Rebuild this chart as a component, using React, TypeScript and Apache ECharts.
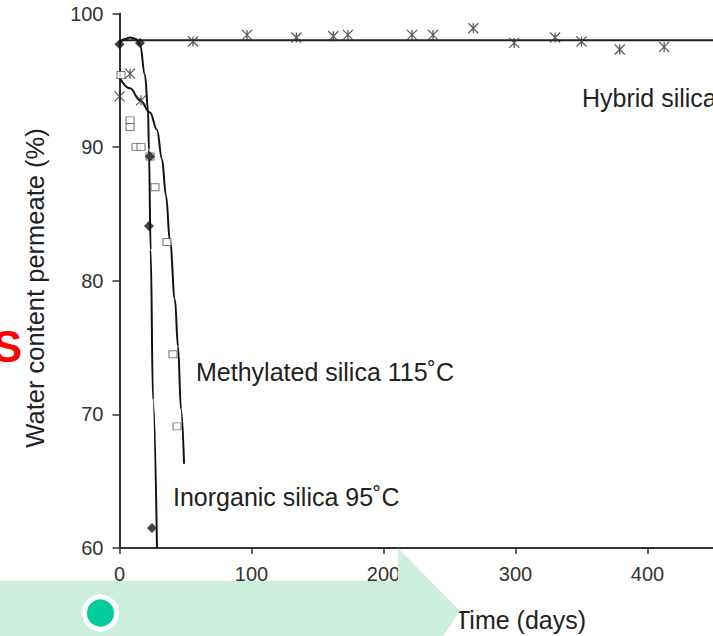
import React, { useEffect, useRef } from "react";
import * as echarts from "echarts";

// Tick values
const xTicks = [0, 100, 200, 300, 400, 500];
const yTicks = [60, 70, 80, 90, 100];

// Hybrid silica: measured points and fitted level
const hybridDays = [0, 8, 16.3, 55.7, 96.6, 134, 162, 173, 221.6, 237.5, 268, 299, 330, 350, 379, 412.6];
const hybridWater = [93.8, 95.5, 93.5, 97.9, 98.4, 98.2, 98.3, 98.4, 98.4, 98.4, 98.9, 97.8, 98.2, 97.9, 97.3, 97.5];
const hybridFitDays = [0, 500];
const hybridFitWater = [98.0, 98.0];

// Inorganic silica 95°C
const inorgDays = [0, 15.5, 23.1, 22.3, 24.6];
const inorgWater = [97.7, 97.8, 89.3, 84.1, 61.5];
const inorgFitDays = [0, 4.2, 8, 12.5, 15.5, 19.3, 21.6, 22.3, 23.6, 25.4, 28.4];
const inorgFitWater = [97.8, 98.1, 98.2, 98.1, 97.7, 95.4, 92.8, 89.8, 82.3, 71.1, 60.0];

// Methylated silica 115°C
const methDays = [1.1, 8, 8, 12.5, 16.3, 23.1, 26.9, 36.0, 40.5, 43.6];
const methWater = [95.4, 92.0, 91.5, 90.0, 90.0, 89.3, 87.0, 82.9, 74.5, 69.1];
const methFitDays = [0, 8, 15.5, 23.1, 28.4, 32.2, 35.2, 38.3, 42, 44.3, 46.6, 48.9];
const methFitWater = [95.2, 94.4, 93.5, 92.6, 91.3, 89.1, 86.4, 82.9, 78.6, 75.1, 70.4, 66.3];

const zip = (a: number[], b: number[]) => a.map((v, i) => [v, b[i]]);

const FONT = "'Liberation Sans', Arial, sans-serif";

export default function App() {
  const ref = useRef<HTMLDivElement>(null);
  useEffect(() => {
    if (!ref.current) return;
    const chart = echarts.init(ref.current, null, { renderer: "svg" });
    const asterisk = "path://M0,0L10,10M10,0L0,10M5,0L5,10";
    chart.setOption({
      animation: false,
      backgroundColor: "#ffffff",
      grid: { left: 119.5, top: 13.5, width: 660, height: 534.5, containLabel: false },
      xAxis: {
        type: "value",
        min: xTicks[0],
        max: xTicks[xTicks.length - 1],
        interval: 100,
        axisLine: { show: true, lineStyle: { color: "#333", width: 2 } },
        axisTick: { show: true, inside: false, length: 6, lineStyle: { color: "#333", width: 1.5 } },
        splitLine: { show: false },
        axisLabel: { color: "#333", fontSize: 20, fontFamily: FONT, margin: 16 },
      },
      yAxis: {
        type: "value",
        min: yTicks[0],
        max: yTicks[yTicks.length - 1],
        interval: 10,
        axisLine: { show: true, lineStyle: { color: "#333", width: 2 } },
        axisTick: { show: true, inside: false, length: 7, lineStyle: { color: "#333", width: 1.5 } },
        splitLine: { show: false },
        axisLabel: { color: "#333", fontSize: 20, fontFamily: FONT, margin: 16 },
      },
      series: [
        {
          type: "line",
          data: zip(hybridFitDays, hybridFitWater),
          showSymbol: false,
          lineStyle: { color: "#222", width: 2 },
          z: 2,
        },
        {
          type: "scatter",
          data: zip(hybridDays, hybridWater),
          symbol: asterisk,
          symbolSize: 10,
          itemStyle: { color: "transparent", borderColor: "#333", borderWidth: 1.3 },
          z: 3,
        },
        {
          type: "line",
          data: zip(inorgFitDays, inorgFitWater),
          smooth: 0.4,
          smoothMonotone: "x",
          showSymbol: false,
          lineStyle: { color: "#111", width: 2 },
          z: 2,
        },
        {
          type: "scatter",
          data: zip(inorgDays, inorgWater),
          symbol: "diamond",
          symbolSize: 10,
          itemStyle: { color: "#111" },
          z: 4,
        },
        {
          type: "line",
          data: zip(methFitDays, methFitWater),
          smooth: 0.4,
          smoothMonotone: "x",
          showSymbol: false,
          lineStyle: { color: "#111", width: 2 },
          z: 2,
        },
        {
          type: "scatter",
          data: zip(methDays, methWater),
          symbol: "rect",
          symbolSize: [8, 7],
          itemStyle: { color: "#fff", borderColor: "#555", borderWidth: 1 },
          z: 3,
        },
      ],
      graphic: [
        {
          type: "text",
          x: 582,
          y: 98,
          style: { text: "Hybrid silica", fontSize: 25, fontFamily: FONT, fill: "#222", verticalAlign: "middle", align: "left" },
        },
        {
          type: "text",
          x: 196,
          y: 372,
          style: { text: "Methylated silica 115˚C", fontSize: 25, fontFamily: FONT, fill: "#222", verticalAlign: "middle", align: "left" },
        },
        {
          type: "text",
          x: 173,
          y: 497,
          style: { text: "Inorganic silica 95˚C", fontSize: 25, fontFamily: FONT, fill: "#222", verticalAlign: "middle", align: "left" },
        },
        {
          type: "text",
          x: 35,
          y: 288,
          rotation: Math.PI / 2,
          style: { text: "Water content permeate (%)", fontSize: 25.5, fontFamily: FONT, fill: "#222", verticalAlign: "middle", align: "center" },
        },
        {
          type: "text",
          x: 455,
          y: 620,
          style: { text: "Time (days)", fontSize: 25, fontFamily: FONT, fill: "#222", verticalAlign: "middle", align: "left" },
        },
        {
          type: "text",
          x: 22,
          y: 346,
          z: 50,
          style: { text: "S", fontSize: 44, fontWeight: "bold", fontFamily: FONT, fill: "#ff0000", verticalAlign: "middle", align: "right" },
        },
        {
          type: "polygon",
          z: 100,
          shape: { points: [[0, 581], [398, 581], [398, 548], [460, 611], [435, 648], [0, 648]] },
          style: { fill: "#cceedd" },
        },
        {
          type: "circle",
          z: 101,
          shape: { cx: 100.5, cy: 613, r: 16 },
          style: { fill: "#00cc99", stroke: "#ffffff", lineWidth: 5 },
        },
      ],
    });
    return () => chart.dispose();
  }, []);
  return (
    <div style={{ position: "fixed", left: 0, top: 0, width: 713, height: 636, overflow: "hidden", background: "#fff" }}>
      <div ref={ref} style={{ width: 800, height: 636 }} />
    </div>
  );
}
